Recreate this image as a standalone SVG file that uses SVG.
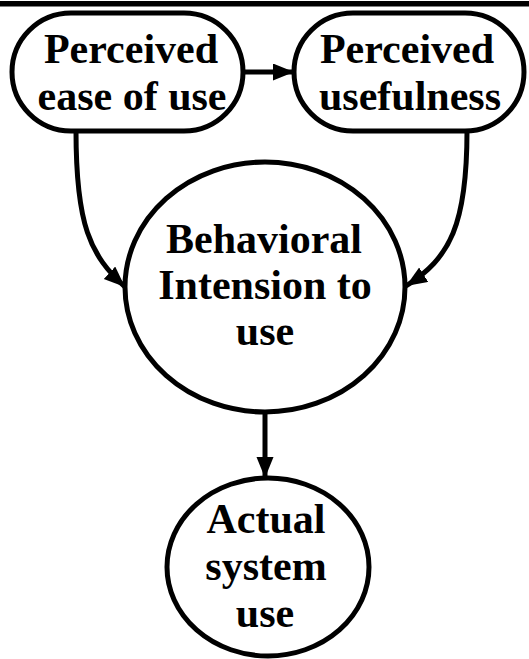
<svg xmlns="http://www.w3.org/2000/svg" width="529" height="659" viewBox="0 0 529 659">
<style>
.n{fill:#fff;stroke:#000;stroke-width:5}
.t{font-family:"Liberation Serif","Times New Roman",serif;font-weight:bold;font-size:42px;fill:#000;text-anchor:middle}
.c{fill:none;stroke:#000;stroke-width:5}
</style>
<defs>
<marker id="ah" markerUnits="userSpaceOnUse" markerWidth="24" markerHeight="20" refX="21" refY="8.5" orient="auto">
<path d="M0,0 L21,8.5 L0,17 z" fill="#000"/>
</marker>
</defs>
<rect x="0" y="1" width="529" height="5.5" fill="#000"/>
<g id="connectors">
<path class="c" d="M243,72 L294,72" marker-end="url(#ah)"/>
<path class="c" d="M76,131 C76,225 90,255 125,287" marker-end="url(#ah)"/>
<path class="c" d="M467,131 C467,225 450,258 406,286" marker-end="url(#ah)"/>
<path class="c" d="M265,412 L265,478" marker-end="url(#ah)"/>
</g>
<g id="peou">
<rect class="n" x="12" y="13" width="231" height="118" rx="59" ry="59"/>
<text class="t" x="131" y="63">Perceived</text>
<text class="t" x="132" y="110">ease of use</text>
</g>
<g id="pu">
<rect class="n" x="294" y="13" width="230" height="118" rx="59" ry="59"/>
<text class="t" x="407" y="63">Perceived</text>
<text class="t" x="410" y="110">usefulness</text>
</g>
<g id="bi">
<ellipse class="n" cx="265" cy="287" rx="140" ry="125"/>
<text class="t" x="264" y="253">Behavioral</text>
<text class="t" x="265" y="299">Intension to</text>
<text class="t" x="265" y="345">use</text>
</g>
<g id="asu">
<ellipse class="n" cx="268" cy="567" rx="101" ry="89"/>
<text class="t" x="266" y="533">Actual</text>
<text class="t" x="266" y="580">system</text>
<text class="t" x="265" y="627">use</text>
</g>
</svg>
